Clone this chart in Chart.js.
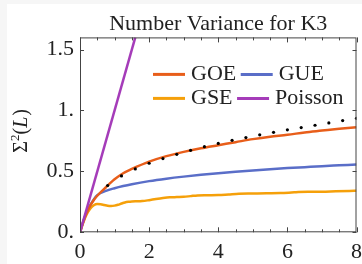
<!DOCTYPE html>
<html><head><meta charset="utf-8">
<script src="https://cdn.jsdelivr.net/npm/chart.js@4/dist/chart.umd.min.js"></script>
<style>
html,body{margin:0;padding:0;background:#f6f6f6;width:362px;height:264px;overflow:hidden}
#wrap{position:absolute;left:7px;top:4px;width:355px;height:260px;background:#fff}
canvas{display:block}
</style></head><body>
<div id="wrap"><canvas id="c" width="355" height="260"></canvas></div>
<script>
// ---- data ----
const L_RMT = [0, 0.1, 0.2, 0.3, 0.4, 0.5, 0.75, 1, 1.25, 1.5, 2, 2.5, 3, 3.5, 4, 4.5, 5, 5.5, 6, 6.5, 7, 7.5, 8];
const GOE = [0, 0.09, 0.165, 0.22, 0.265, 0.30, 0.37, 0.435, 0.485, 0.52, 0.58, 0.625, 0.66, 0.69, 0.715, 0.74, 0.765, 0.785, 0.80, 0.82, 0.835, 0.85, 0.863];
const GUE = [0, 0.095, 0.17, 0.225, 0.27, 0.305, 0.34, 0.362, 0.38, 0.395, 0.42, 0.44, 0.457, 0.472, 0.485, 0.497, 0.508, 0.518, 0.527, 0.535, 0.543, 0.55, 0.557];
const L_GSE = [0, 0.1, 0.2, 0.3, 0.4, 0.5, 0.6, 0.7, 0.8, 0.9, 1.0, 1.1, 1.2, 1.3, 1.4, 1.5, 1.6, 1.7, 1.8, 2.0, 2.2, 2.4, 2.6, 2.8, 3.0, 3.2, 3.4, 3.6, 3.8, 4.0, 4.3, 4.6, 5.0, 5.4, 5.8, 6.2, 6.6, 7.0, 7.4, 7.8, 8.0];
const GSE = [0, 0.085, 0.15, 0.195, 0.222, 0.232, 0.23, 0.224, 0.218, 0.216, 0.219, 0.226, 0.236, 0.245, 0.25, 0.253, 0.254, 0.254, 0.256, 0.264, 0.273, 0.281, 0.287, 0.289, 0.291, 0.297, 0.303, 0.305, 0.305, 0.306, 0.311, 0.316, 0.318, 0.32, 0.322, 0.328, 0.333, 0.333, 0.337, 0.34, 0.341];
const L_POISSON = [0, 1.6];
const POISSON = [0, 1.6];
const L_DOTS = [0.8, 1.2, 1.6, 2.0, 2.4, 2.8, 3.2, 3.6, 4.0, 4.4, 4.8, 5.2, 5.6, 6.0, 6.4, 6.8, 7.2, 7.6, 8.0];
const DOTS = [0.384, 0.463, 0.52, 0.567, 0.605, 0.64, 0.673, 0.703, 0.73, 0.755, 0.778, 0.80, 0.821, 0.841, 0.86, 0.879, 0.898, 0.917, 0.936];
const X_TICKS = [0, 2, 4, 6, 8];
const X_TICK_LABELS = ['0', '2', '4', '6', '8'];
const Y_TICKS = [0, 0.5, 1, 1.5];
const Y_TICK_LABELS = ['0.', '0.5', '1.', '1.5'];
const SERIES_NAMES = ['GOE', 'GUE', 'GSE', 'Poisson'];
const TITLE = 'Number Variance for K3';
const Y_TITLE_PARTS = ['Σ', '2', '(', 'L', ')'];

const COLORS = ['#E85E1A', '#5A6EC8', '#F5A00A', '#A53CB9'];
const FONT = '"Liberation Serif", "Times New Roman", serif';
const xy = (xs, ys) => xs.map((x, i) => ({x: x, y: ys[i]}));

const lineDs = (label, xs, ys, color, order) => ({
  label, data: xy(xs, ys), borderColor: color, backgroundColor: color,
  borderWidth: 2.5, pointRadius: 0, fill: false, cubicInterpolationMode: 'monotone', order
});

const framePlugin = {
  id: 'frame',
  afterDraw(chart) {
    const {ctx, chartArea: a, scales: {x, y}} = chart;
    ctx.save();
    ctx.strokeStyle = '#444';
    ctx.lineWidth = 1;
    ctx.strokeRect(a.left + 0.5, a.top + 0.5, a.right - a.left - 1, a.bottom - a.top - 1);
    ctx.beginPath();
    for (let v = 0; v <= 8.0001; v += 0.5) {
      const px = Math.round(x.getPixelForValue(v)) + 0.5;
      const len = (Math.abs(v % 2) < 1e-6) ? 5 : 3;
      ctx.moveTo(px, a.bottom); ctx.lineTo(px, a.bottom - len);
      ctx.moveTo(px, a.top); ctx.lineTo(px, a.top + len);
    }
    for (let v = 0; v <= 1.6; v += 0.5) {
      const py = Math.round(y.getPixelForValue(v)) + 0.5;
      ctx.moveTo(a.left, py); ctx.lineTo(a.left + 4, py);
      ctx.moveTo(a.right, py); ctx.lineTo(a.right - 4, py);
    }
    ctx.stroke();

    // legend inside the plot
    ctx.font = '22px ' + FONT;
    ctx.textBaseline = 'middle';
    ctx.textAlign = 'left';
    ctx.fillStyle = '#222';
    const rows = [[0, 1], [2, 3]];
    const startX = a.left + 73, rowY = [a.top + 37, a.top + 61];
    rows.forEach((r, ri) => {
      let cx = startX;
      r.forEach(si => {
        ctx.strokeStyle = COLORS[si];
        ctx.lineWidth = 3;
        ctx.beginPath();
        ctx.moveTo(cx, rowY[ri]); ctx.lineTo(cx + 32, rowY[ri]);
        ctx.stroke();
        cx += 38;
        ctx.fillText(SERIES_NAMES[si], cx, rowY[ri]);
        cx += ctx.measureText(SERIES_NAMES[si]).width + 4.5;
      });
    });

    // y axis title  Σ²(L), rotated
    const fonts = ['20px ' + FONT, '13px ' + FONT, '20px ' + FONT, 'italic 20px ' + FONT, '20px ' + FONT];
    const rise = [0, -8, 0, 0, 0];
    let w = 0;
    const widths = Y_TITLE_PARTS.map((t, i) => { ctx.font = fonts[i]; const m = ctx.measureText(t).width; w += m; return m; });
    ctx.translate(13, (a.top + a.bottom) / 2 - 3.5);
    ctx.rotate(-Math.PI / 2);
    ctx.textBaseline = 'alphabetic';
    let tx = -w / 2;
    Y_TITLE_PARTS.forEach((t, i) => {
      ctx.font = fonts[i];
      ctx.fillText(t, tx, 7 + rise[i]);
      tx += widths[i] + (i === 3 ? 1 : 0);
    });
    ctx.restore();
  }
};

new Chart(document.getElementById('c'), {
  type: 'line',
  data: {
    datasets: [
      {label: 'dots', data: xy(L_DOTS, DOTS), showLine: false, pointRadius: 1.6, pointBorderWidth: 0,
       pointBackgroundColor: '#000', borderColor: '#000', order: 0},
      lineDs(SERIES_NAMES[0], L_RMT, GOE, COLORS[0], 2),
      lineDs(SERIES_NAMES[1], L_RMT, GUE, COLORS[1], 3),
      lineDs(SERIES_NAMES[2], L_GSE, GSE, COLORS[2], 4),
      lineDs(SERIES_NAMES[3], L_POISSON, POISSON, COLORS[3], 1)
    ]
  },
  options: {
    responsive: false,
    animation: false,
    devicePixelRatio: 1,
    layout: {padding: {left: 0, right: 5, top: 0, bottom: 0}},
    plugins: {
      legend: {display: false},
      tooltip: {enabled: false},
      title: {display: true, text: TITLE, fullSize: false, color: '#222',
              font: {family: FONT, size: 22, weight: 'normal'}, padding: {top: 7, bottom: 0}}
    },
    scales: {
      x: {
        type: 'linear', min: 0, max: 8,
        afterBuildTicks: s => { s.ticks = X_TICKS.map(v => ({value: v})); },
        afterFit: s => { s.height = 31.7; },
        grid: {display: false, drawTicks: true, tickLength: 7},
        border: {display: false},
        ticks: {autoSkip: false, maxRotation: 0, padding: 0, color: '#222',
                font: {family: FONT, size: 22},
                callback: v => X_TICK_LABELS[X_TICKS.indexOf(v)]}
      },
      y: {
        type: 'linear', min: 0, max: 1.6,
        afterBuildTicks: s => { s.ticks = Y_TICKS.map(v => ({value: v})); },
        afterFit: s => { s.width = 73; },
        grid: {display: false, drawTicks: false},
        border: {display: false},
        ticks: {autoSkip: false, padding: 6, color: '#222',
                font: {family: FONT, size: 22},
                callback: v => Y_TICK_LABELS[Y_TICKS.indexOf(v)]}
      }
    }
  },
  plugins: [framePlugin]
});
</script>
</body></html>
